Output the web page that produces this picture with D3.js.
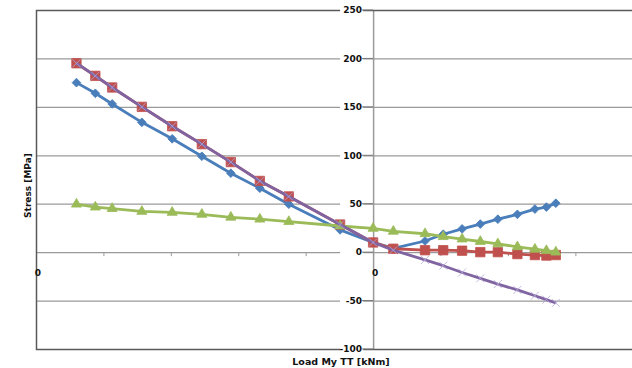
<!DOCTYPE html>
<html>
<head>
<meta charset="utf-8">
<script src="https://cdn.jsdelivr.net/npm/d3@7"></script>
<style>
  body { margin: 0; background: #fff; }
  text { font-family: "DejaVu Sans", sans-serif; font-weight: bold; }
</style>
</head>
<body>
<div id="container"></div>
<script>
// Chart size and plot area
const width = 632;
const height = 368;
const marginTop = 10;
const marginLeft = 36;
const marginBottom = 19;
const marginRight = 0;

// Load values (x) shared by all series
const loads = [-440, -412, -387, -343, -298, -254, -211, -168, -125, -49, 0,
               30, 77, 104, 132, 159, 185, 214, 240, 257, 271];

// Stress values per series [MPa]
const seriesBlue   = [175, 164, 153, 134, 117, 99, 81.5, 66, 49.5, 23, 10,
                      4, 11.5, 18.5, 24, 29, 34, 39, 44.5, 46.5, 50.5];
const seriesRed    = [195, 182, 170, 150, 130, 111.5, 93, 73.5, 57.5, 28.5, 10,
                      3.5, 2, 2, 1.5, 0, 0, -2, -3, -3.5, -3];
const seriesGreen  = [49.5, 46.5, 45, 42, 41, 39, 36, 34, 31.5, 27, 24.5,
                      21.5, 19, 16, 13.5, 11, 8.5, 5.5, 3, 1.5, 0];
const seriesPurple = [195, 182, 170, 150, 130, 111.5, 93, 73.5, 57.5, 28.5, 10,
                      2, -8, -14, -21, -27, -33, -39, -45, -49, -52.5];

// Axis ticks and labels
const yTicks = [250, 200, 150, 100, 50, 0, -50, -100];
const xTicks = [-500, -400, -300, -200, -100, 0, 100, 200, 300];
const xTickLabels = [{ value: -500, text: "0" }, { value: 0, text: "0" }];
const yTitle = "Stress [MPa]";
const xTitle = "Load My TT [kNm]";

const x = d3.scaleLinear().domain([-500, 384]).range([marginLeft, width - marginRight]);
const y = d3.scaleLinear().domain([-100, 250]).range([height - marginBottom, marginTop]);

const svg = d3.select("#container").append("svg")
    .attr("width", width)
    .attr("height", height)
    .attr("viewBox", [0, 0, width, height]);

svg.append("rect").attr("width", width).attr("height", height).attr("fill", "#fff");

// Horizontal gridlines
svg.append("g")
    .selectAll("line")
    .data(yTicks.filter(d => d !== 250 && d !== -100))
    .join("line")
    .attr("x1", marginLeft)
    .attr("x2", width)
    .attr("y1", d => y(d) + 0.5)
    .attr("y2", d => y(d) + 0.5)
    .attr("stroke", "#9a9a9a")
    .attr("stroke-width", 1.2);

// x tick marks along the zero line
svg.append("g")
    .selectAll("line")
    .data(xTicks)
    .join("line")
    .attr("x1", d => x(d) + 0.5)
    .attr("x2", d => x(d) + 0.5)
    .attr("y1", y(0))
    .attr("y2", y(0) + 4)
    .attr("stroke", "#9a9a9a");

// Vertical axis at load = 0
svg.append("line")
    .attr("x1", x(0) + 0.5).attr("x2", x(0) + 0.5)
    .attr("y1", y(250)).attr("y2", y(-100))
    .attr("stroke", "#9a9a9a")
    .attr("stroke-width", 1.5);

// Plot border (top, left, bottom)
svg.append("path")
    .attr("d", `M${width + 2},${y(250) + 0.5}H${marginLeft + 0.5}V${y(-100) + 0.5}H${width + 2}`)
    .attr("fill", "none")
    .attr("stroke", "#5a5a5a")
    .attr("stroke-width", 1.5);

// y tick labels with white box behind, like the source
const yLab = svg.append("g");
yTicks.forEach(v => {
    const g = yLab.append("g").attr("transform", `translate(${x(0) - 11},${y(v)})`);
    g.append("rect").attr("x", -22).attr("y", -5).attr("width", 23).attr("height", 10).attr("fill", "#fff");
    g.append("line").attr("x1", 0).attr("x2", 11).attr("stroke", "#777");
    g.append("text")
        .attr("text-anchor", "end")
        .attr("dy", "0.36em")
        .attr("font-size", 9)
        .attr("fill", "#111")
        .text(v);
});

// x tick labels
svg.append("g")
    .selectAll("text")
    .data(xTickLabels)
    .join("text")
    .attr("x", d => x(d.value) + 2)
    .attr("y", y(0) + 24)
    .attr("text-anchor", "middle")
    .attr("font-size", 9)
    .attr("fill", "#111")
    .text(d => d.text);

// Axis titles
svg.append("text")
    .attr("transform", `translate(31,${(marginTop + height - marginBottom) / 2 + 6}) rotate(-90)`)
    .attr("text-anchor", "middle")
    .attr("font-size", 9)
    .attr("fill", "#111")
    .text(yTitle);

svg.append("text")
    .attr("x", 341)
    .attr("y", 365)
    .attr("text-anchor", "middle")
    .attr("font-size", 9.5)
    .attr("fill", "#111")
    .text(xTitle);

// Series drawing
const line = d3.line().x(d => x(d[0])).y(d => y(d[1]));

const series = [
    { values: seriesBlue, color: "#4A7EBB", marker: "diamond" },
    { values: seriesRed, color: "#C0504D", marker: "square" },
    { values: seriesGreen, color: "#9BBB59", marker: "triangle" },
    { values: seriesPurple, color: "#8064A2", marker: "x" }
];

const markerPath = {
    diamond: d3.symbol(d3.symbolSquare, 38)(),
    square: d3.symbol(d3.symbolSquare, 88)(),
    triangle: d3.symbol(d3.symbolTriangle, 44)(),
    x: "M-4,-4L4,4M4,-4L-4,4"
};

series.forEach(s => {
    const pts = loads.map((l, i) => [l, s.values[i]]);
    const g = svg.append("g");
    g.append("path")
        .datum(pts)
        .attr("fill", "none")
        .attr("stroke", s.color)
        .attr("stroke-width", 2.8)
        .attr("stroke-linejoin", "round")
        .attr("d", line);

    g.selectAll(".m")
        .data(pts)
        .join("path")
        .attr("class", "m")
        .attr("d", markerPath[s.marker])
        .attr("transform", d => `translate(${x(d[0])},${y(d[1])})` + (s.marker === "diamond" ? " rotate(45)" : ""))
        .attr("fill", s.marker === "x" ? "none" : s.color)
        .attr("stroke", s.marker === "x" ? "#B4A8D8" : s.color)
        .attr("stroke-opacity", s.marker === "x" ? 0.8 : 1)
        .attr("stroke-width", s.marker === "x" ? 1 : 0.8);
});
</script>
</body>
</html>
